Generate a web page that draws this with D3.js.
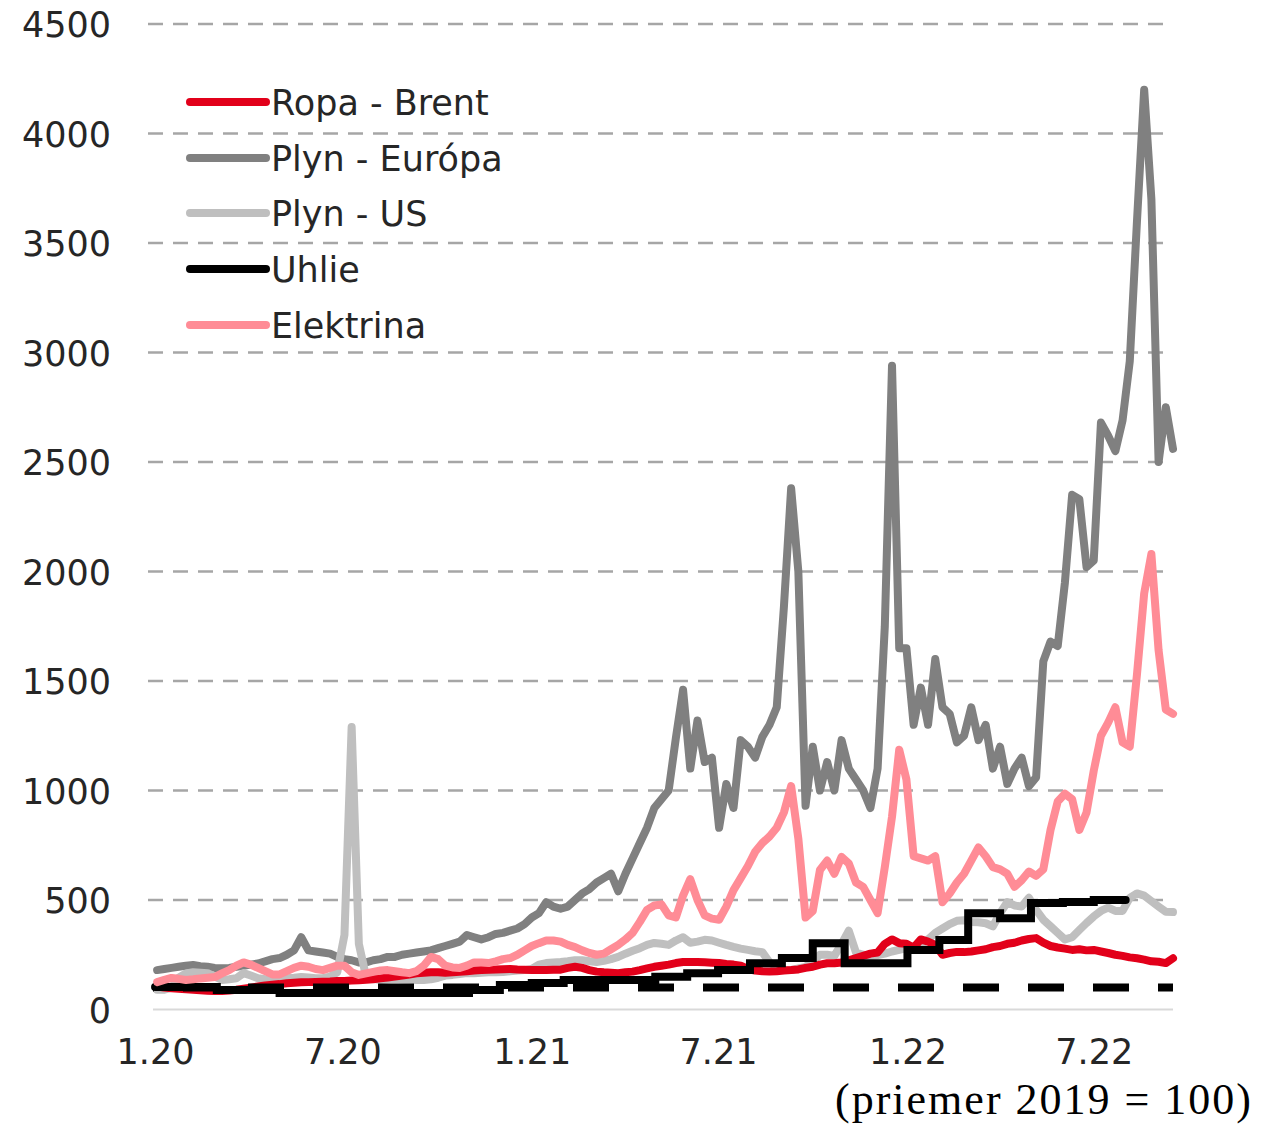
<!DOCTYPE html>
<html>
<head>
<meta charset="utf-8">
<script src="https://cdn.jsdelivr.net/npm/d3@7"></script>
<style>
  body { margin: 0; background: #fff; }
  text { font-family: "DejaVu Sans", sans-serif; fill: #262626; }
</style>
</head>
<body>
<svg id="chart" width="1261" height="1124"></svg>
<script>
// Legend / series info
const seriesNames = ["Ropa - Brent", "Plyn - Európa", "Plyn - US", "Uhlie", "Elektrina"];
const seriesColors = ["#e2001a", "#808080", "#bfbfbf", "#000000", "#ff8c96"];

// Axis ticks
const yTicks = [0, 500, 1000, 1500, 2000, 2500, 3000, 3500, 4000, 4500];
const xTickDates = ["2020-01-01", "2020-07-01", "2021-01-01", "2021-07-01", "2022-01-01", "2022-07-01"];
const xTickLabels = ["1.20", "7.20", "1.21", "7.21", "1.22", "7.22"];

// weekly observations (Fridays), starting 3.1.2020 - index 2019 = 100
const firstWeek = "2020-01-03";
const ropa = [
  105,100,97,95,92,90,88,86,85,85,
  87,90,95,100,105,110,113,116,120,122,
  124,125,126,127,128,130,130,132,134,136,
  138,142,146,150,155,160,165,168,170,170,
  168,170,172,175,178,180,182,183,184,185,
  183,182,180,180,180,182,182,190,195,190,
  180,173,170,168,166,170,173,180,188,195,
  200,205,212,217,217,217,216,214,212,208,
  205,200,185,178,175,173,175,178,180,183,
  190,195,205,211,211,215,225,235,245,255,
  260,300,320,303,300,282,320,310,295,250,
  258,263,262,265,270,275,285,290,300,305,
  315,322,326,305,290,283,278,272,275,270,
  272,265,258,250,245,238,234,228,220,218,
  212,234
];
const plynEU = [
  180,185,190,195,200,203,198,195,190,188,
  190,195,200,205,210,220,230,235,250,270,
  330,270,265,260,255,240,230,225,215,215,
  225,230,240,240,250,255,260,265,270,280,
  290,300,310,340,330,320,330,345,350,360,
  370,390,420,440,490,470,460,470,500,530,
  550,580,600,620,540,620,690,760,830,920,
  960,1000,1240,1460,1100,1320,1130,1150,830,1030,
  920,1230,1200,1150,1245,1300,1380,1840,2380,2000,
  930,1200,1000,1130,1000,1230,1100,1050,1000,920,
  1100,1750,2940,1650,1650,1300,1470,1300,1600,1380,
  1350,1220,1250,1380,1230,1300,1100,1200,1030,1100,
  1150,1020,1060,1590,1680,1660,1950,2350,2330,2020,
  2050,2680,2620,2550,2690,2960,3600,4200,3700,2500,
  2750,2560
];
const plynUS = [
  90,90,100,145,165,170,168,166,150,135,
  138,143,166,155,143,138,135,140,143,145,
  148,146,143,143,150,170,340,1290,300,150,
  140,135,138,140,138,137,135,135,138,145,
  155,158,162,166,166,168,170,170,171,175,
  178,180,185,205,212,215,217,220,225,225,
  220,217,222,230,240,255,268,280,295,304,
  300,295,315,330,305,310,318,315,305,295,
  286,278,272,266,262,215,195,182,180,188,
  195,220,250,250,245,300,360,260,250,245,
  248,255,265,272,280,290,295,320,350,370,
  390,405,408,400,398,394,380,440,490,475,
  470,510,455,410,380,350,320,330,363,395,
  425,450,465,450,450,510,530,520,495,470,
  446,445
];
const elektrina = [
  125,135,144,140,135,138,142,145,148,165,
  180,200,215,205,190,175,160,160,175,190,
  200,195,185,180,190,200,200,170,158,165,
  172,178,180,175,170,166,175,200,240,230,
  200,192,190,200,215,215,212,220,230,235,
  250,270,290,303,315,315,310,295,285,270,
  258,250,255,275,295,320,350,400,455,475,
  480,430,420,520,595,500,430,415,410,470,
  545,600,655,720,760,790,830,900,1020,780,
  420,450,637,680,620,697,667,580,560,500,
  440,650,880,1186,1050,700,690,680,700,490,
  530,580,620,680,740,700,650,640,620,560,
  590,630,610,640,820,950,985,960,820,900,
  1090,1250,1310,1380,1220,1200,1530,1900,2080,1640,
  1370,1350
];

// coal: monthly values 1.2020 - 7.2022 (step line)
const firstMonth = "2020-01-01";
const uhlie = [
  103,103,89,89,75,75,75,75,75,75,89,112,
  121,135,135,135,149,166,180,211,235,303,211,211,
  272,317,440,417,486,491,500
];
const uhlieEnd = "2022-08-01";
const baseLevel = 100;

const svg = d3.select("#chart");
const parse = d3.utcParse("%Y-%m-%d");

const x = d3.scaleUtc()
  .domain([parse("2019-12-30"), parse("2022-09-16")])
  .range([153, 1173]);
const y = d3.scaleLinear()
  .domain([0, 4500])
  .range([1009.5, 24]);

const weeks = ropa.map((d, i) => d3.utcDay.offset(parse(firstWeek), 7 * i));

// grid
svg.append("g")
  .selectAll("line")
  .data(yTicks.filter(d => d > 0))
  .enter().append("line")
  .attr("x1", 148).attr("x2", 1173)
  .attr("y1", d => y(d)).attr("y2", d => y(d))
  .attr("stroke", "#a6a6a6")
  .attr("stroke-width", 2.5)
  .attr("stroke-dasharray", "15,10");

svg.append("line")
  .attr("x1", 153).attr("x2", 1173)
  .attr("y1", y(0)).attr("y2", y(0))
  .attr("stroke", "#d9d9d9")
  .attr("stroke-width", 2);

// y axis labels
const yAxis = d3.axisLeft(y).tickValues(yTicks).tickFormat(d3.format("d")).tickSize(0).tickPadding(0);
svg.append("g")
  .attr("transform", "translate(111,0)")
  .call(yAxis)
  .call(g => g.select(".domain").remove())
  .selectAll("text")
  .attr("dy", "0.36em")
  .style("font-size", "35px")
  .style("font-family", "DejaVu Sans")
  .attr("fill", "#262626");

// x axis labels
const xAxis = d3.axisBottom(x)
  .tickValues(xTickDates.map(parse))
  .tickFormat((d, i) => xTickLabels[i])
  .tickSize(0).tickPadding(0);
svg.append("g")
  .attr("transform", "translate(0,1038)")
  .call(xAxis)
  .call(g => g.select(".domain").remove())
  .selectAll("text")
  .attr("dy", "0.73em")
  .style("font-size", "35px")
  .style("font-family", "DejaVu Sans")
  .attr("fill", "#262626");

const line = d3.line()
  .x(d => x(d[0]))
  .y(d => y(d[1]));

function drawSeries(values, color) {
  svg.append("path")
    .datum(values.map((v, i) => [weeks[i], v]))
    .attr("fill", "none")
    .attr("stroke", color)
    .attr("stroke-width", 8)
    .attr("stroke-linejoin", "round")
    .attr("stroke-linecap", "round")
    .attr("d", line);
}

drawSeries(plynEU, seriesColors[1]);
drawSeries(plynUS, seriesColors[2]);
drawSeries(ropa, seriesColors[0]);

// coal step line
const coalPts = uhlie.map((v, i) => [d3.utcMonth.offset(parse(firstMonth), i), v]);
coalPts.push([parse(uhlieEnd), uhlie[uhlie.length - 1]]);
svg.append("path")
  .datum(coalPts)
  .attr("fill", "none")
  .attr("stroke", seriesColors[3])
  .attr("stroke-width", 8)
  .attr("stroke-linecap", "round")
  .attr("d", line.curve(d3.curveStepAfter));
line.curve(d3.curveLinear);

// 2019 = 100 reference
svg.append("line")
  .attr("x1", 153).attr("x2", 1173)
  .attr("y1", y(baseLevel)).attr("y2", y(baseLevel))
  .attr("stroke", "#000")
  .attr("stroke-width", 8)
  .attr("stroke-dasharray", "36,29")
  .attr("stroke-dashoffset", 35);

drawSeries(elektrina, seriesColors[4]);

// legend
const legend = svg.append("g");
const legendY = [102, 158, 213, 269, 325];
seriesNames.forEach((name, i) => {
  legend.append("line")
    .attr("x1", 190).attr("x2", 266)
    .attr("y1", legendY[i]).attr("y2", legendY[i])
    .attr("stroke", seriesColors[i])
    .attr("stroke-width", 8)
    .attr("stroke-linecap", "round");
  legend.append("text")
    .attr("x", 271)
    .attr("y", legendY[i] + 13)
    .style("font-size", "35px")
    .text(name);
});

// note
svg.append("text")
  .attr("x", 1253)
  .attr("y", 1114)
  .attr("text-anchor", "end")
  .style("font-family", "Liberation Serif")
  .style("font-size", "44px")
  .style("letter-spacing", "2px")
  .style("fill", "#000")
  .text("(priemer 2019 = 100)");
</script>
</body>
</html>
